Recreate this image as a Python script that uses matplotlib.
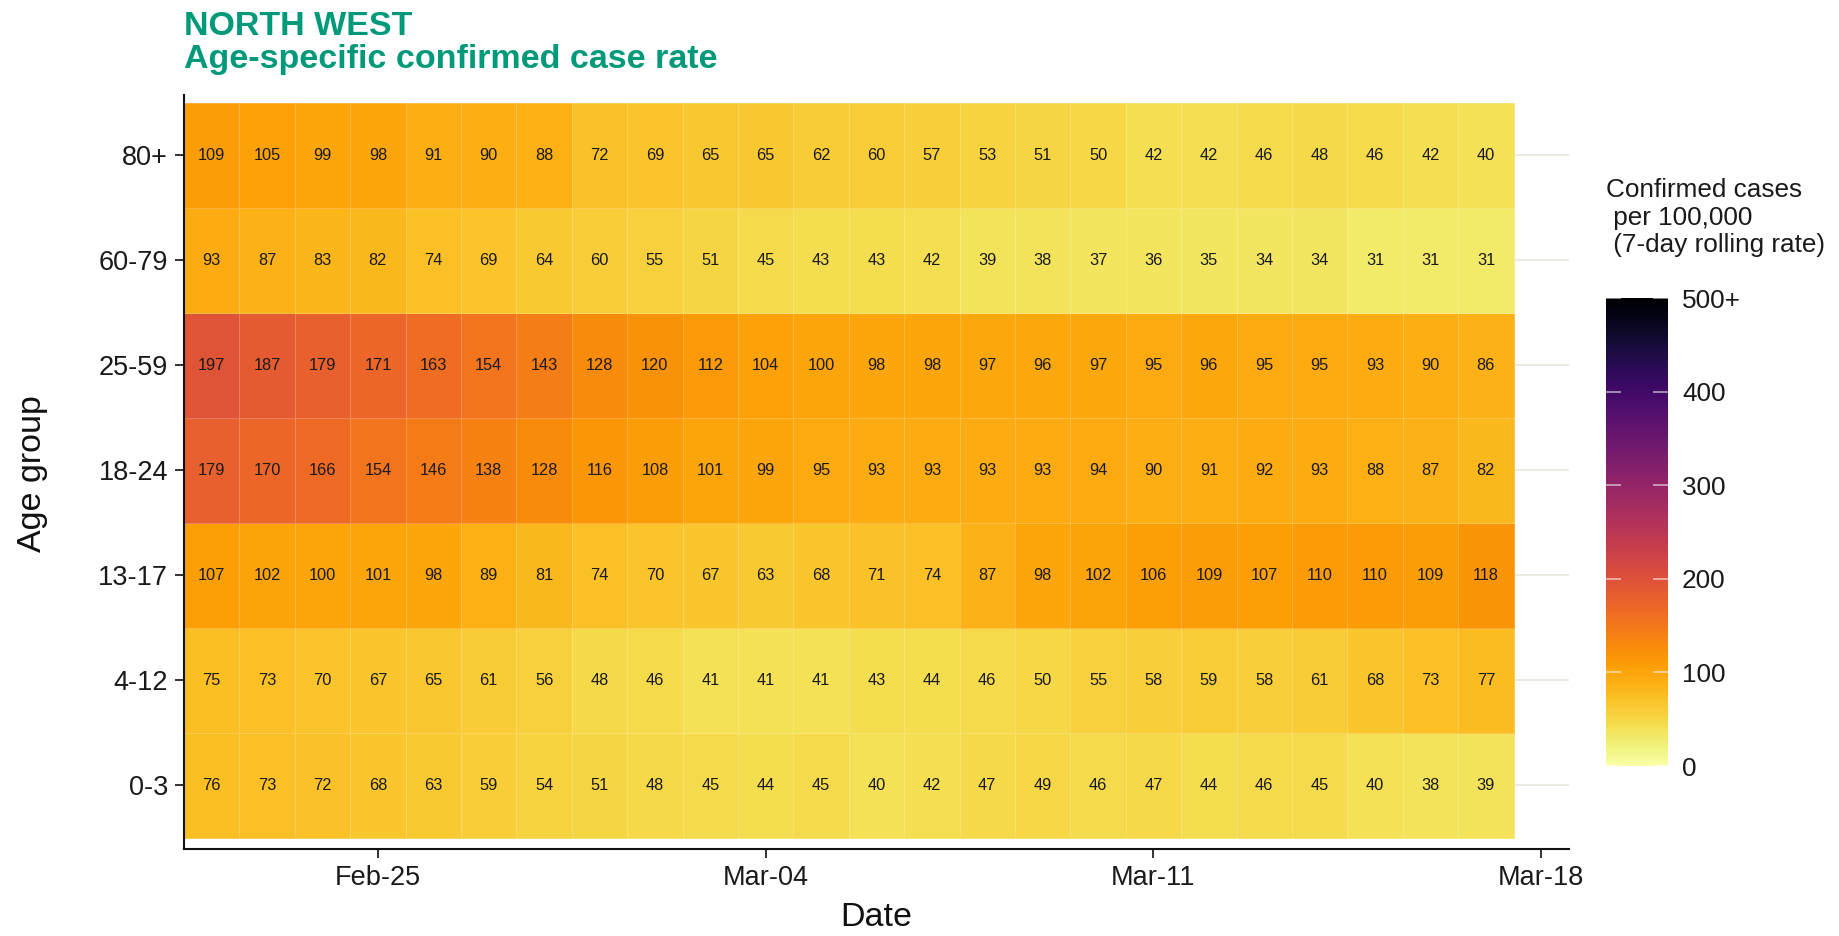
import numpy as np
import pandas as pd
import matplotlib
matplotlib.use('Agg')
import matplotlib.pyplot as plt
import matplotlib.dates as mdates

plt.rcParams['font.family'] = ['Liberation Sans', 'DejaVu Sans']

# age groups, bottom to top
ages = ['0-3', '4-12', '13-17', '18-24', '25-59', '60-79', '80+']

dates = pd.date_range('2021-02-22', '2021-03-17', freq='D')

# 7-day rolling rate per 100,000, one list per age group
rate_0_3 = [76, 73, 72, 68, 63, 59, 54, 51, 48, 45, 44, 45, 40, 42, 47, 49, 46, 47, 44, 46, 45, 40, 38, 39]
rate_4_12 = [75, 73, 70, 67, 65, 61, 56, 48, 46, 41, 41, 41, 43, 44, 46, 50, 55, 58, 59, 58, 61, 68, 73, 77]
rate_13_17 = [107, 102, 100, 101, 98, 89, 81, 74, 70, 67, 63, 68, 71, 74, 87, 98, 102, 106, 109, 107, 110, 110, 109, 118]
rate_18_24 = [179, 170, 166, 154, 146, 138, 128, 116, 108, 101, 99, 95, 93, 93, 93, 93, 94, 90, 91, 92, 93, 88, 87, 82]
rate_25_59 = [197, 187, 179, 171, 163, 154, 143, 128, 120, 112, 104, 100, 98, 98, 97, 96, 97, 95, 96, 95, 95, 93, 90, 86]
rate_60_79 = [93, 87, 83, 82, 74, 69, 64, 60, 55, 51, 45, 43, 43, 42, 39, 38, 37, 36, 35, 34, 34, 31, 31, 31]
rate_80 = [109, 105, 99, 98, 91, 90, 88, 72, 69, 65, 65, 62, 60, 57, 53, 51, 50, 42, 42, 46, 48, 46, 42, 40]

tick_dates = ['2021-02-25', '2021-03-04', '2021-03-11', '2021-03-18']
cbar_ticks = [0, 100, 200, 300, 400, 500]
cbar_labels = ['0', '100', '200', '300', '400', '500+']

values = np.array([rate_0_3, rate_4_12, rate_13_17, rate_18_24,
                   rate_25_59, rate_60_79, rate_80])

W, H = 1839, 936
fig = plt.figure(figsize=(W / 100, H / 100), dpi=100)
ax = fig.add_axes([184 / W, 1 - 849 / H, (1569 - 184) / W, (849 - 95) / H])

xnum = mdates.date2num(dates)
xedges = np.append(xnum - 0.5, xnum[-1] + 0.5)
yedges = np.arange(len(ages) + 1) - 0.5

mesh = ax.pcolormesh(xedges, yedges, values, cmap='inferno_r', vmin=0, vmax=500,
                     edgecolors=(1, 1, 1, 0.22), linewidth=0.7, zorder=2)

for i in range(len(ages)):
    for j in range(len(dates)):
        ax.text(xnum[j], i, str(values[i, j]), ha='center', va='center',
                fontsize=11.8, color='#1a1a1a', zorder=3)

ax.set_xlim(xnum[0] - 0.5, xnum[-1] + 1.5)
ax.set_ylim(-0.605, 6.576)

ax.set_yticks(range(len(ages)))
ax.set_yticklabels(ages)
ax.set_xticks(mdates.date2num(pd.to_datetime(tick_dates)))
ax.xaxis.set_major_formatter(mdates.DateFormatter('%b-%d'))

ax.grid(axis='y', color='#ebebe2', linewidth=1.4, zorder=0)
ax.set_axisbelow(True)
for s in ['top', 'right']:
    ax.spines[s].set_visible(False)
for s in ['left', 'bottom']:
    ax.spines[s].set_linewidth(1.5)
    ax.spines[s].set_color('#111111')
ax.tick_params(axis='both', length=6.5, width=1.2, color='#111111',
               labelsize=19.5, labelcolor='#1a1a1a')
ax.tick_params(axis='y', pad=5)
ax.tick_params(axis='x', pad=5)

fig.text(0.4766, 10 / H, 'Date', ha='center', va='baseline', fontsize=24.5, color='#111111')
fig.text(33 / W, 0.4936, 'Age group', ha='center', va='center', rotation=90,
         fontsize=24.5, color='#111111')

green = '#009a7a'
fig.text(184 / W, 1 - 35 / H, 'NORTH WEST', ha='left', va='baseline',
         fontsize=24.5, fontweight='bold', color=green)
fig.text(184 / W, 1 - 68 / H, 'Age-specific confirmed case rate', ha='left', va='baseline',
         fontsize=24.5, fontweight='bold', color=green)

# colour bar
cax = fig.add_axes([1606 / W, 1 - 766 / H, 62 / W, 468 / H])
cb = fig.colorbar(mesh, cax=cax)
cb.outline.set_visible(False)
cb.set_ticks(cbar_ticks)
cb.set_ticklabels(cbar_labels)
cax.tick_params(direction='in', length=11, width=1.2, color=(1, 1, 1, 0.6),
                left=True, right=True, labelsize=18.8, labelcolor='#1a1a1a', pad=10)

for k, line in enumerate(['Confirmed cases', ' per 100,000', ' (7-day rolling rate)']):
    fig.text(1606 / W, 1 - (197 + 27.5 * k) / H, line, ha='left', va='baseline',
             fontsize=18.8, color='#1a1a1a')

fig.savefig('out.png', dpi=100)
